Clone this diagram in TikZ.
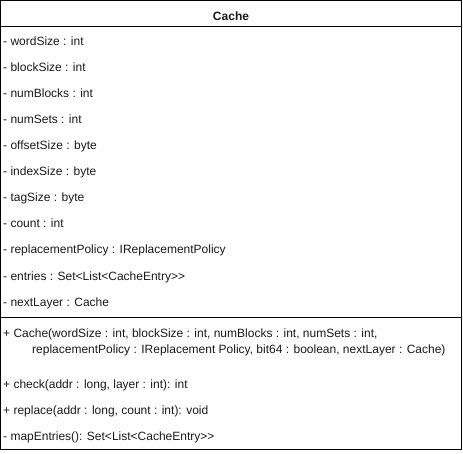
\documentclass[tikz,border=0pt]{standalone}
\usepackage{fontspec}
\setmainfont[Ligatures=TeXOff]{Liberation Sans}
\usepackage{tikz}
\usetikzlibrary{positioning}
\definecolor{ctext}{HTML}{1A1A1A}
\tikzset{
  member/.style={anchor=base west, inner sep=0pt, font=\fontsize{12}{14}\selectfont, text=ctext},
  classname/.style={anchor=base, inner sep=0pt, font=\fontsize{12}{14}\selectfont\bfseries, text=ctext}
}

\begin{document}
\begin{tikzpicture}[x=1pt, y=-1pt]
  \useasboundingbox (0,0) rectangle (463,454);
  % class box with its two separators
  \draw[line width=1pt] (0.5,0.5) rectangle (461,449.5);
  \draw[line width=1pt] (0.5,27) -- (461,27);
  \draw[line width=1pt] (0.5,317) -- (461,317);

  % class name
  \node[classname] (title) at (231,20.5) {Cache};

  % attributes
  \foreach \txt [count=\i from 0] in {
      {- wordSize : int},
      {- blockSize : int},
      {- numBlocks : int},
      {- numSets : int},
      {- offsetSize : byte},
      {- indexSize : byte},
      {- tagSize : byte},
      {- count : int},
      {- replacementPolicy : IReplacementPolicy},
      {- entries : Set<List<CacheEntry>>},
      {- nextLayer : Cache}}{
    \node[member] (attr\i) at (3,46+26*\i) {\txt};
  }

  % operations
  \node[member] (ctor) at (3,337.5) {+ Cache(wordSize : int, blockSize : int, numBlocks : int, numSets : int,};
  \node[member] (ctorb) at (32,353.5) {replacementPolicy : IReplacement Policy, bit64 : boolean, nextLayer : Cache)};
  \node[member] (check) at (3,388.5) {+ check(addr : long, layer : int): int};
  \node[member] (replace) at (3,414.5) {+ replace(addr : long, count : int): void};
  \node[member] (mapent) at (3,440.5) {- mapEntries(): Set<List<CacheEntry>>};
\end{tikzpicture}
\end{document}
